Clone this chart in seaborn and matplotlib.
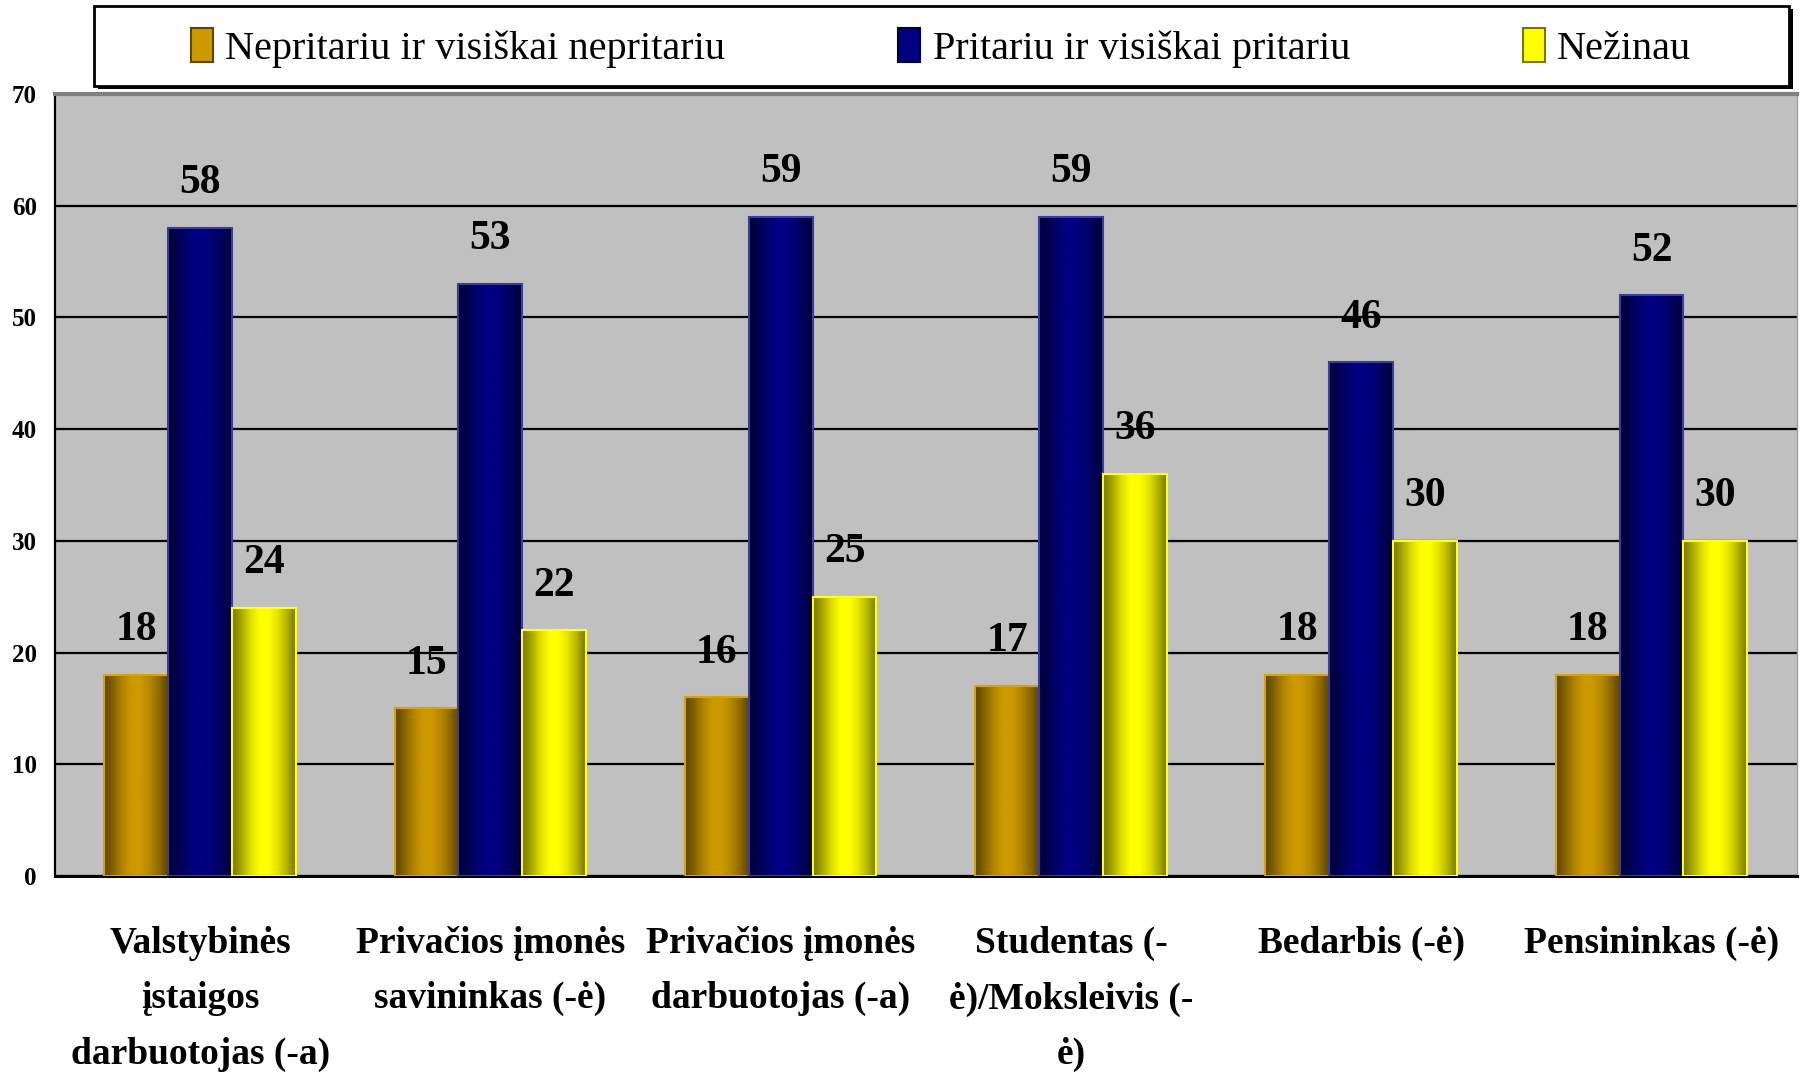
import numpy as np
import pandas as pd
import seaborn as sns
import matplotlib.pyplot as plt
from matplotlib.patches import Patch, Rectangle
from matplotlib.colors import LinearSegmentedColormap

categories = ["Valstybinės\nįstaigos\ndarbuotojas (-a)",
              "Privačios įmonės\nsavininkas (-ė)",
              "Privačios įmonės\ndarbuotojas (-a)",
              "Studentas (-\nė)/Moksleivis (-\nė)",
              "Bedarbis (-ė)",
              "Pensininkas (-ė)"]
series = ["Nepritariu ir visiškai nepritariu",
          "Pritariu ir visiškai pritariu",
          "Nežinau"]
nepritariu = [18, 15, 16, 17, 18, 18]
pritariu = [58, 53, 59, 59, 46, 52]
nezinau = [24, 22, 25, 36, 30, 30]

rows = []
for name, vals in zip(series, [nepritariu, pritariu, nezinau]):
    for c, v in zip(categories, vals):
        rows.append([c, name, v])
df = pd.DataFrame(rows, columns=["kat", "atsakymas", "proc"])

base = {series[0]: "#CC9900", series[1]: "#000080", series[2]: "#FFFF00"}
dark = {series[0]: "#5E4500", series[1]: "#000035", series[2]: "#777700"}
edge = {series[0]: "#D9A400", series[1]: "#3B3BA0", series[2]: "#FFFF20"}

sns.set_theme(style="white")
plt.rcParams["font.family"] = ["Liberation Serif", "DejaVu Serif"]
plt.rcParams["text.color"] = "black"
plt.rcParams["xtick.color"] = "black"
plt.rcParams["ytick.color"] = "black"

fig = plt.figure(figsize=(18.03, 10.81), dpi=100)
ax = fig.add_axes([0.0305, 0.1896, 0.966, 0.7234])
ax.set_facecolor("#C0C0C0")

sns.barplot(data=df, x="kat", y="proc", hue="atsakymas", hue_order=series,
            order=categories, palette=base, width=0.66, ax=ax, legend=False,
            saturation=1)

# cylinder-like shading of the bars
grad = np.array([0.0, 0.35, 0.75, 1.0, 1.0, 0.8, 0.45, 0.0])
for cont, name in zip(ax.containers, series):
    cmap = LinearSegmentedColormap.from_list(name, [dark[name], base[name]])
    for bar in cont:
        x0, w, h = bar.get_x(), bar.get_width(), bar.get_height()
        im = ax.imshow(np.interp(np.linspace(0, 7, 200), np.arange(8), grad)[None, :],
                       cmap=cmap, vmin=0, vmax=1, aspect="auto",
                       extent=(x0, x0 + w, 0, h), zorder=2, interpolation="bilinear")
        im.set_clip_path(bar)
        bar.set_facecolor("none")
        bar.set_edgecolor(edge[name])
        bar.set_linewidth(1.5)
        bar.set_zorder(3)
        ax.text(x0 + w / 2, h + 3.1, f"{h:.0f}", ha="center", va="baseline",
                fontsize=30, fontweight="bold", zorder=4)

ax.set_xlim(-0.5, len(categories) - 0.5)
ax.set_ylim(0, 70)
ax.set_yticks(range(0, 71, 10))
ax.yaxis.grid(True, color="black", linewidth=1.6)
ax.set_axisbelow(True)
ax.set_xlabel("")
ax.set_ylabel("")

ax.set_xticks(range(len(categories)))
ax.set_xticklabels(categories, fontsize=27, fontweight="bold", linespacing=1.75, va="top")
ax.tick_params(axis="x", which="major", length=0, pad=36)
ax.set_xticks(np.arange(-0.5, len(categories)), minor=True)
ax.tick_params(axis="x", which="minor", length=14, width=1.3, color="black", direction="out")
ax.tick_params(axis="y", length=9, width=1.6, color="black", direction="out",
               labelsize=18, pad=4)
for t in ax.get_yticklabels():
    t.set_fontweight("bold")

ax.spines["left"].set_color("black")
ax.spines["left"].set_linewidth(1.6)
ax.spines["bottom"].set_color("black")
ax.spines["bottom"].set_linewidth(2.2)
ax.spines["top"].set_color("#808080")
ax.spines["top"].set_linewidth(3)
ax.spines["right"].set_color("#A0A0A0")
ax.spines["right"].set_linewidth(1)

# legend box with a hard shadow
fig.patches.append(Rectangle((0.0545, 0.9175), 0.94, 0.074, transform=fig.transFigure,
                             facecolor="black", edgecolor="none", zorder=1))
fig.patches.append(Rectangle((0.052, 0.9205), 0.94, 0.074, transform=fig.transFigure,
                             facecolor="white", edgecolor="black", linewidth=2, zorder=2))
handles = [Patch(facecolor=base[s], edgecolor=dark[s], linewidth=1.5, label=s) for s in series]
leg = fig.legend(handles=handles, loc="center", bbox_to_anchor=(0.522, 0.9556),
                 ncol=3, fontsize=29, frameon=False,
                 handlelength=0.55, handleheight=0.9, handletextpad=0.3,
                 borderpad=0.2, columnspacing=4.3)
leg.set_zorder(3)

fig.savefig("out.png", dpi=100)
